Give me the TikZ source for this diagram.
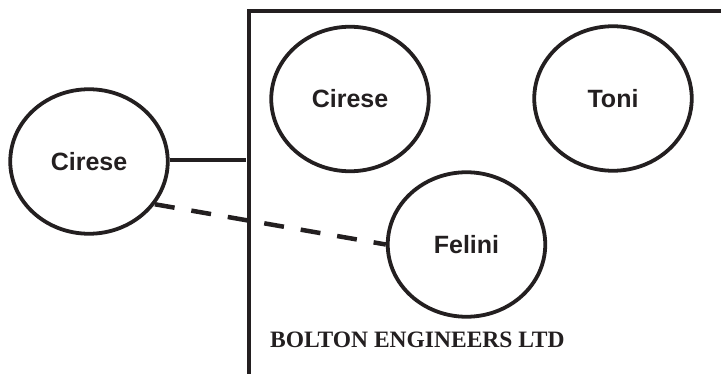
\documentclass[tikz,border=0pt]{standalone}
\usepackage{fontspec}
\setmainfont{Liberation Serif}
\setsansfont{Liberation Sans}
\usetikzlibrary{shapes.geometric}
\definecolor{ink}{HTML}{231F20}
\begin{document}
\begin{tikzpicture}[x=1pt,y=-1pt,
  person/.style={ellipse,draw=ink,line width=3.8pt,minimum width=157.5pt,minimum height=144.5pt,inner sep=0pt,
    font=\sffamily\bfseries\fontsize{25}{28}\selectfont,text=ink},
  linkline/.style={draw=ink,line width=4.5pt},
  boxline/.style={draw=ink,line width=3.2pt}]
\useasboundingbox (0,0) rectangle (721,374);
\node[person] (lc) at (89,161.5) {Cirese};
\node[person] (ic) at (350,99) {Cirese};
\node[person] (tn) at (613,98.5) {Toni};
\node[person] (fl) at (466.5,244.5) {Felini};
\coordinate (boxbl) at (249,376);
\coordinate (boxtl) at (249,11);
\coordinate (boxtr) at (723,11);
\draw[boxline] (boxbl) -- (boxtl) -- (boxtr);
\coordinate (joint) at (246,160);
\draw[linkline] (lc.east |- joint) -- (joint);
\draw[linkline,dash pattern=on 20pt off 17pt] (lc.-33.5) -- (fl.west);
\node[anchor=base west,inner sep=0pt,font=\bfseries\fontsize{23.5}{27}\selectfont,text=ink] (co) at (270,348) {BOLTON ENGINEERS LTD};
\end{tikzpicture}
\end{document}
